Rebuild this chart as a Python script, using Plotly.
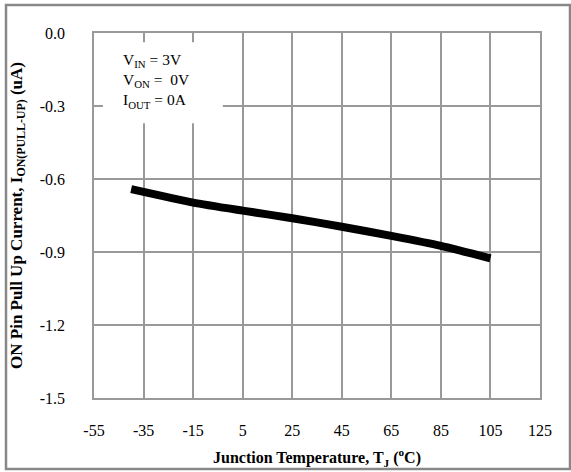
import plotly.graph_objects as go

temps = [-40, -15, 5, 25, 45, 65, 85, 105]
current = [-0.642, -0.697, -0.730, -0.761, -0.796, -0.834, -0.875, -0.926]

x_ticks = [-55, -35, -15, 5, 25, 45, 65, 85, 105, 125]
y_ticks = [0.0, -0.3, -0.6, -0.9, -1.2, -1.5]
y_tick_text = ["0.0", "-0.3", "-0.6", "-0.9", "-1.2", "-1.5"]

font_family = "Liberation Serif"
grid_col = "#999999"

fig = go.Figure()
fig.add_trace(go.Scatter(x=temps, y=current, mode="lines",
                         line=dict(color="black", width=8, shape="spline", smoothing=0.6),
                         showlegend=False, hoverinfo="skip"))

fig.update_layout(
    width=571, height=472,
    margin=dict(l=94, r=31, t=33, b=74, autoexpand=False),
    paper_bgcolor="white", plot_bgcolor="white",
    font=dict(family=font_family, size=16, color="black"),
    xaxis=dict(range=[-55, 125], tickvals=x_ticks, ticktext=[str(v) for v in x_ticks],
               showgrid=True, gridcolor=grid_col, gridwidth=1.5, zeroline=False,
               showline=True, linecolor=grid_col, linewidth=1.5, mirror=True,
               ticks="", ticklabelstandoff=17, automargin=False,
               title=dict(text="<b>Junction Temperature, T<sub>J</sub> (<sup>o</sup>C)</b>",
                          font=dict(size=16), standoff=14)),
    yaxis=dict(range=[-1.5, 0.0], tickvals=y_ticks, ticktext=y_tick_text,
               showgrid=True, gridcolor=grid_col, gridwidth=1.5, zeroline=False,
               showline=True, linecolor=grid_col, linewidth=1.5, mirror=True,
               ticks="", ticklabelstandoff=24, automargin=False,
               title=dict(text="<b>ON Pin Pull Up Current, I<sub>ON(PULL-UP)</sub> (uA)</b>",
                          font=dict(size=17), standoff=13)),
)

# white box behind the condition text
fig.add_shape(type="rect", xref="paper", yref="paper", x0=0.020, x1=0.289, y0=0.753, y1=0.975,
              fillcolor="white", line=dict(width=0), layer="above")
fig.add_annotation(xref="paper", yref="paper", x=0.060, y=0.955, xanchor="left", yanchor="top",
                   align="left", showarrow=False,
                   text="V<sub>IN</sub> = 3V<br>V<sub>ON</sub> =  0V<br>I<sub>OUT</sub> = 0A",
                   font=dict(family=font_family, size=15.5, color="black"))

# outer chart border
fig.add_shape(type="rect", xref="paper", yref="paper",
              x0=-88/446, x1=1 + 30/446, y0=-71/365, y1=1 + 28/365,
              line=dict(color="#888888", width=2.5), fillcolor="rgba(0,0,0,0)", layer="above")

fig.write_html("out.html", config={"displayModeBar": False},
               post_script="document.body.style.margin='0';document.body.style.padding='0';")
